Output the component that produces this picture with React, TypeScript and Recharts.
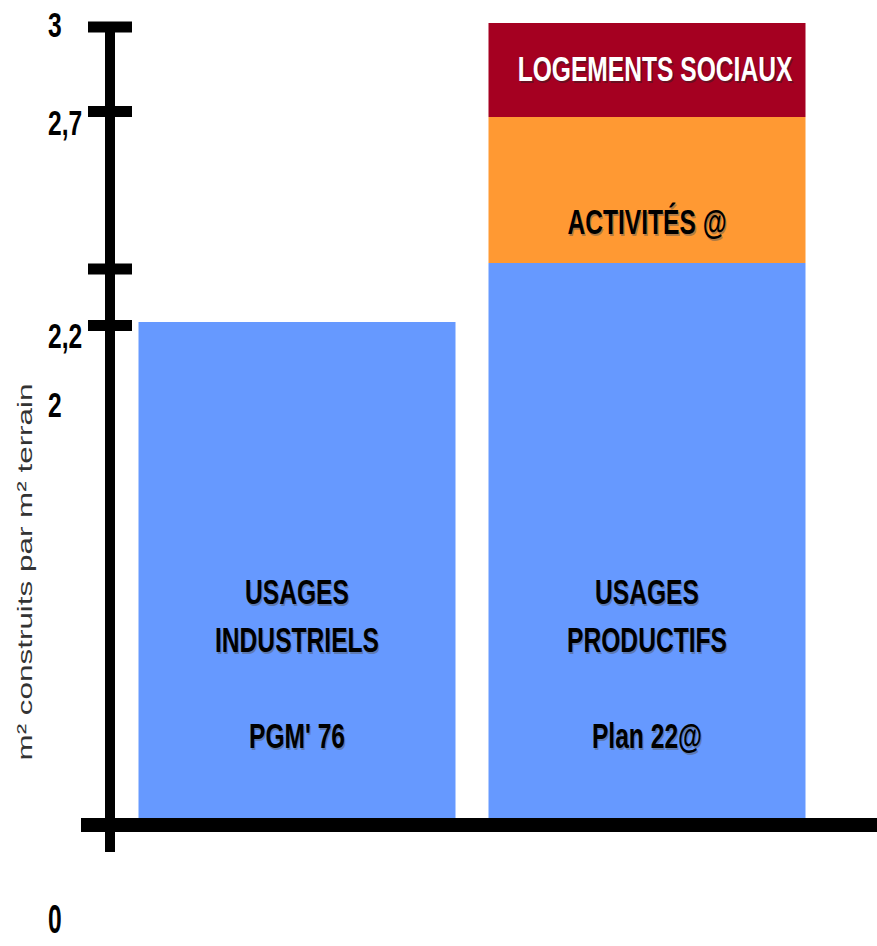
import { BarChart, Bar, XAxis, YAxis, LabelList } from "recharts"

// categories and values (m² built per m² of land)
const categories = ["PGM' 76", "Plan 22@"]
const usageTitles = [["USAGES", "INDUSTRIELS"], ["USAGES", "PRODUCTIFS"]]
const usageValues = [2.2, 2.4]
const activityValues = [0, 0.3]
const socialValues = [0, 0.3]
const activityLabel = "ACTIVITÉS @"
const socialLabel = "LOGEMENTS SOCIAUX"

const yTicks = [0, 2, 2.2, 2.4, 2.7, 3]
const yTickLabels = ["0", "2", "2,2", "", "2,7", "3"]
const yTitle = "m² construits par m² terrain"

const data = categories.map((name, i) => ({
  name,
  usage: usageValues[i],
  activity: activityValues[i],
  social: socialValues[i],
}))

// the axis in the original is schematic (broken), so values map piecewise
const AXIS_BREAKS = [0, 2, 2.2, 2.4, 2.7, 3]
const AXIS_STOPS = [0, 0.5195, 0.6239, 0.6981, 0.8818, 1]

// per tick: draw cross mark?, mark offset, label offset
const TICK_STYLE = [
  { mark: false, markDy: 0, labelDy: 101 },
  { mark: false, markDy: 0, labelDy: 0 },
  { mark: true, markDy: 3.5, labelDy: 14 },
  { mark: true, markDy: 6, labelDy: 0 },
  { mark: true, markDy: -5.5, labelDy: 6 },
  { mark: true, markDy: 4, labelDy: 1.5 },
]

// narrow bold look: Arial-metric bold squeezed horizontally, stretched a bit vertically
const FONT = "'Liberation Sans', Arial, sans-serif"
const SX = 0.82
const SY = 1.16
const BLUE = "#6699ff"
const ORANGE = "#ff9933"
const RED = "#a50021"

function brokenScale(breaks: number[], stops: number[]): any {
  let domain = [breaks[0], breaks[breaks.length - 1]]
  let range = [0, 1]
  const frac = (v: number) => {
    if (v <= breaks[0]) return stops[0]
    for (let i = 1; i < breaks.length; i++) {
      if (v <= breaks[i]) {
        const t = (v - breaks[i - 1]) / (breaks[i] - breaks[i - 1])
        return stops[i - 1] + t * (stops[i] - stops[i - 1])
      }
    }
    return stops[stops.length - 1]
  }
  const scale: any = (v: number) => range[0] + frac(v) * (range[1] - range[0])
  scale.domain = (d?: number[]) => {
    if (!d) return domain.slice()
    domain = d.slice()
    return scale
  }
  scale.range = (r?: number[]) => {
    if (!r) return range.slice()
    range = r.slice()
    return scale
  }
  scale.copy = () => brokenScale(breaks, stops).domain(domain).range(range)
  scale.ticks = () => breaks.slice()
  scale.invert = (px: number) => {
    const f = (px - range[0]) / (range[1] - range[0])
    for (let i = 1; i < stops.length; i++) {
      if (f <= stops[i]) {
        const t = (f - stops[i - 1]) / (stops[i] - stops[i - 1])
        return breaks[i - 1] + t * (breaks[i] - breaks[i - 1])
      }
    }
    return breaks[breaks.length - 1]
  }
  return scale
}

function ShadowText({ x, y, fill, shadow, size, children }: any) {
  return (
    <g
      transform={`translate(${x},${y}) scale(${SX},${SY})`}
      fontFamily={FONT}
      fontWeight="bold"
      fontSize={size}
      textAnchor="middle"
      dominantBaseline="central"
    >
      <text x={1.5} y={1.5} fill={shadow} opacity={0.45}>{children}</text>
      <text x={0} y={0} fill={fill}>{children}</text>
    </g>
  )
}

function YTick(props: any) {
  const { x, y, payload } = props
  const i = yTicks.indexOf(payload.value)
  const st = TICK_STYLE[i]
  const label = yTickLabels[i]
  const isZero = payload.value === 0
  return (
    <g>
      {isZero && (
        <>
          <line x1={x - 29} x2={877} y1={y + 7} y2={y + 7} stroke="#000" strokeWidth={14} />
          <line x1={x} x2={x} y1={y} y2={y + 34} stroke="#000" strokeWidth={10} />
        </>
      )}
      {st.mark && (
        <line x1={x - 22} x2={x + 22} y1={y + st.markDy} y2={y + st.markDy} stroke="#000" strokeWidth={11} />
      )}
      {label && (
        <text
          transform={`translate(${x - 62},${y + st.labelDy}) scale(${SX},${isZero ? 1.35 : SY})`}
          fontFamily={FONT}
          fontWeight="bold"
          fontSize={30}
          fill="#000"
          dominantBaseline="central"
        >
          {label}
        </text>
      )}
    </g>
  )
}

function YTitle() {
  return (
    <text
      transform="translate(25,572) rotate(-90)"
      fontFamily="'Liberation Sans', Arial, sans-serif"
      fontSize={20}
      fill="#333"
      textAnchor="middle"
      dominantBaseline="central"
      textLength={377}
      lengthAdjust="spacingAndGlyphs"
    >
      {yTitle}
    </text>
  )
}

function box(props: any) {
  const vb = props.viewBox ?? props
  return { x: vb.x, y: vb.y, width: vb.width, height: vb.height }
}

function UsageLabel(props: any) {
  const { x, y, width, height } = box(props)
  const i = props.index
  const cx = x + width / 2
  const bottom = y + height
  const lines = [...usageTitles[i], categories[i]]
  const offsets = [-226, -178, -82]
  return (
    <g>
      {lines.map((t, k) => (
        <ShadowText key={k} x={cx} y={bottom + offsets[k]} fill="#000" shadow="#555" size={30}>
          {t}
        </ShadowText>
      ))}
    </g>
  )
}

function ActivityLabel(props: any) {
  const { x, y, width, height } = box(props)
  if (!props.value) return null
  return (
    <ShadowText x={x + width / 2} y={y + height - 41} fill="#000" shadow="#555" size={30}>
      {activityLabel}
    </ShadowText>
  )
}

function SocialLabel(props: any) {
  const { x, y, width, height } = box(props)
  if (!props.value) return null
  return (
    <ShadowText x={x + width / 2 + 8} y={y + height / 2 - 1} fill="#fff" shadow="#222" size={30}>
      {socialLabel}
    </ShadowText>
  )
}

export default function App() {
  return (
    <div style={{ width: 877, height: 946, background: "#fff" }}>
      <style>{`body{margin:0}`}</style>
      <BarChart
        width={877}
        height={946}
        data={data}
        margin={{ top: 23, right: 0, bottom: 128, left: 0 }}
      >
        <XAxis dataKey="name" type="category" hide padding={{ left: 11.5, right: 55.5 }} />
        <YAxis
          type="number"
          domain={[0, 3]}
          scale={brokenScale(AXIS_BREAKS, AXIS_STOPS)}
          ticks={yTicks}
          interval={0}
          width={110}
          tickSize={0}
          tickMargin={0}
          tickLine={false}
          axisLine={{ stroke: "#000", strokeWidth: 10 }}
          tick={<YTick />}
          label={<YTitle />}
        />
        <Bar dataKey="usage" stackId="a" fill={BLUE} barSize={317} isAnimationActive={false}>
          <LabelList dataKey="usage" content={<UsageLabel />} />
        </Bar>
        <Bar dataKey="activity" stackId="a" fill={ORANGE} barSize={317} isAnimationActive={false}>
          <LabelList dataKey="activity" content={<ActivityLabel />} />
        </Bar>
        <Bar dataKey="social" stackId="a" fill={RED} barSize={317} isAnimationActive={false}>
          <LabelList dataKey="social" content={<SocialLabel />} />
        </Bar>
      </BarChart>
    </div>
  )
}
